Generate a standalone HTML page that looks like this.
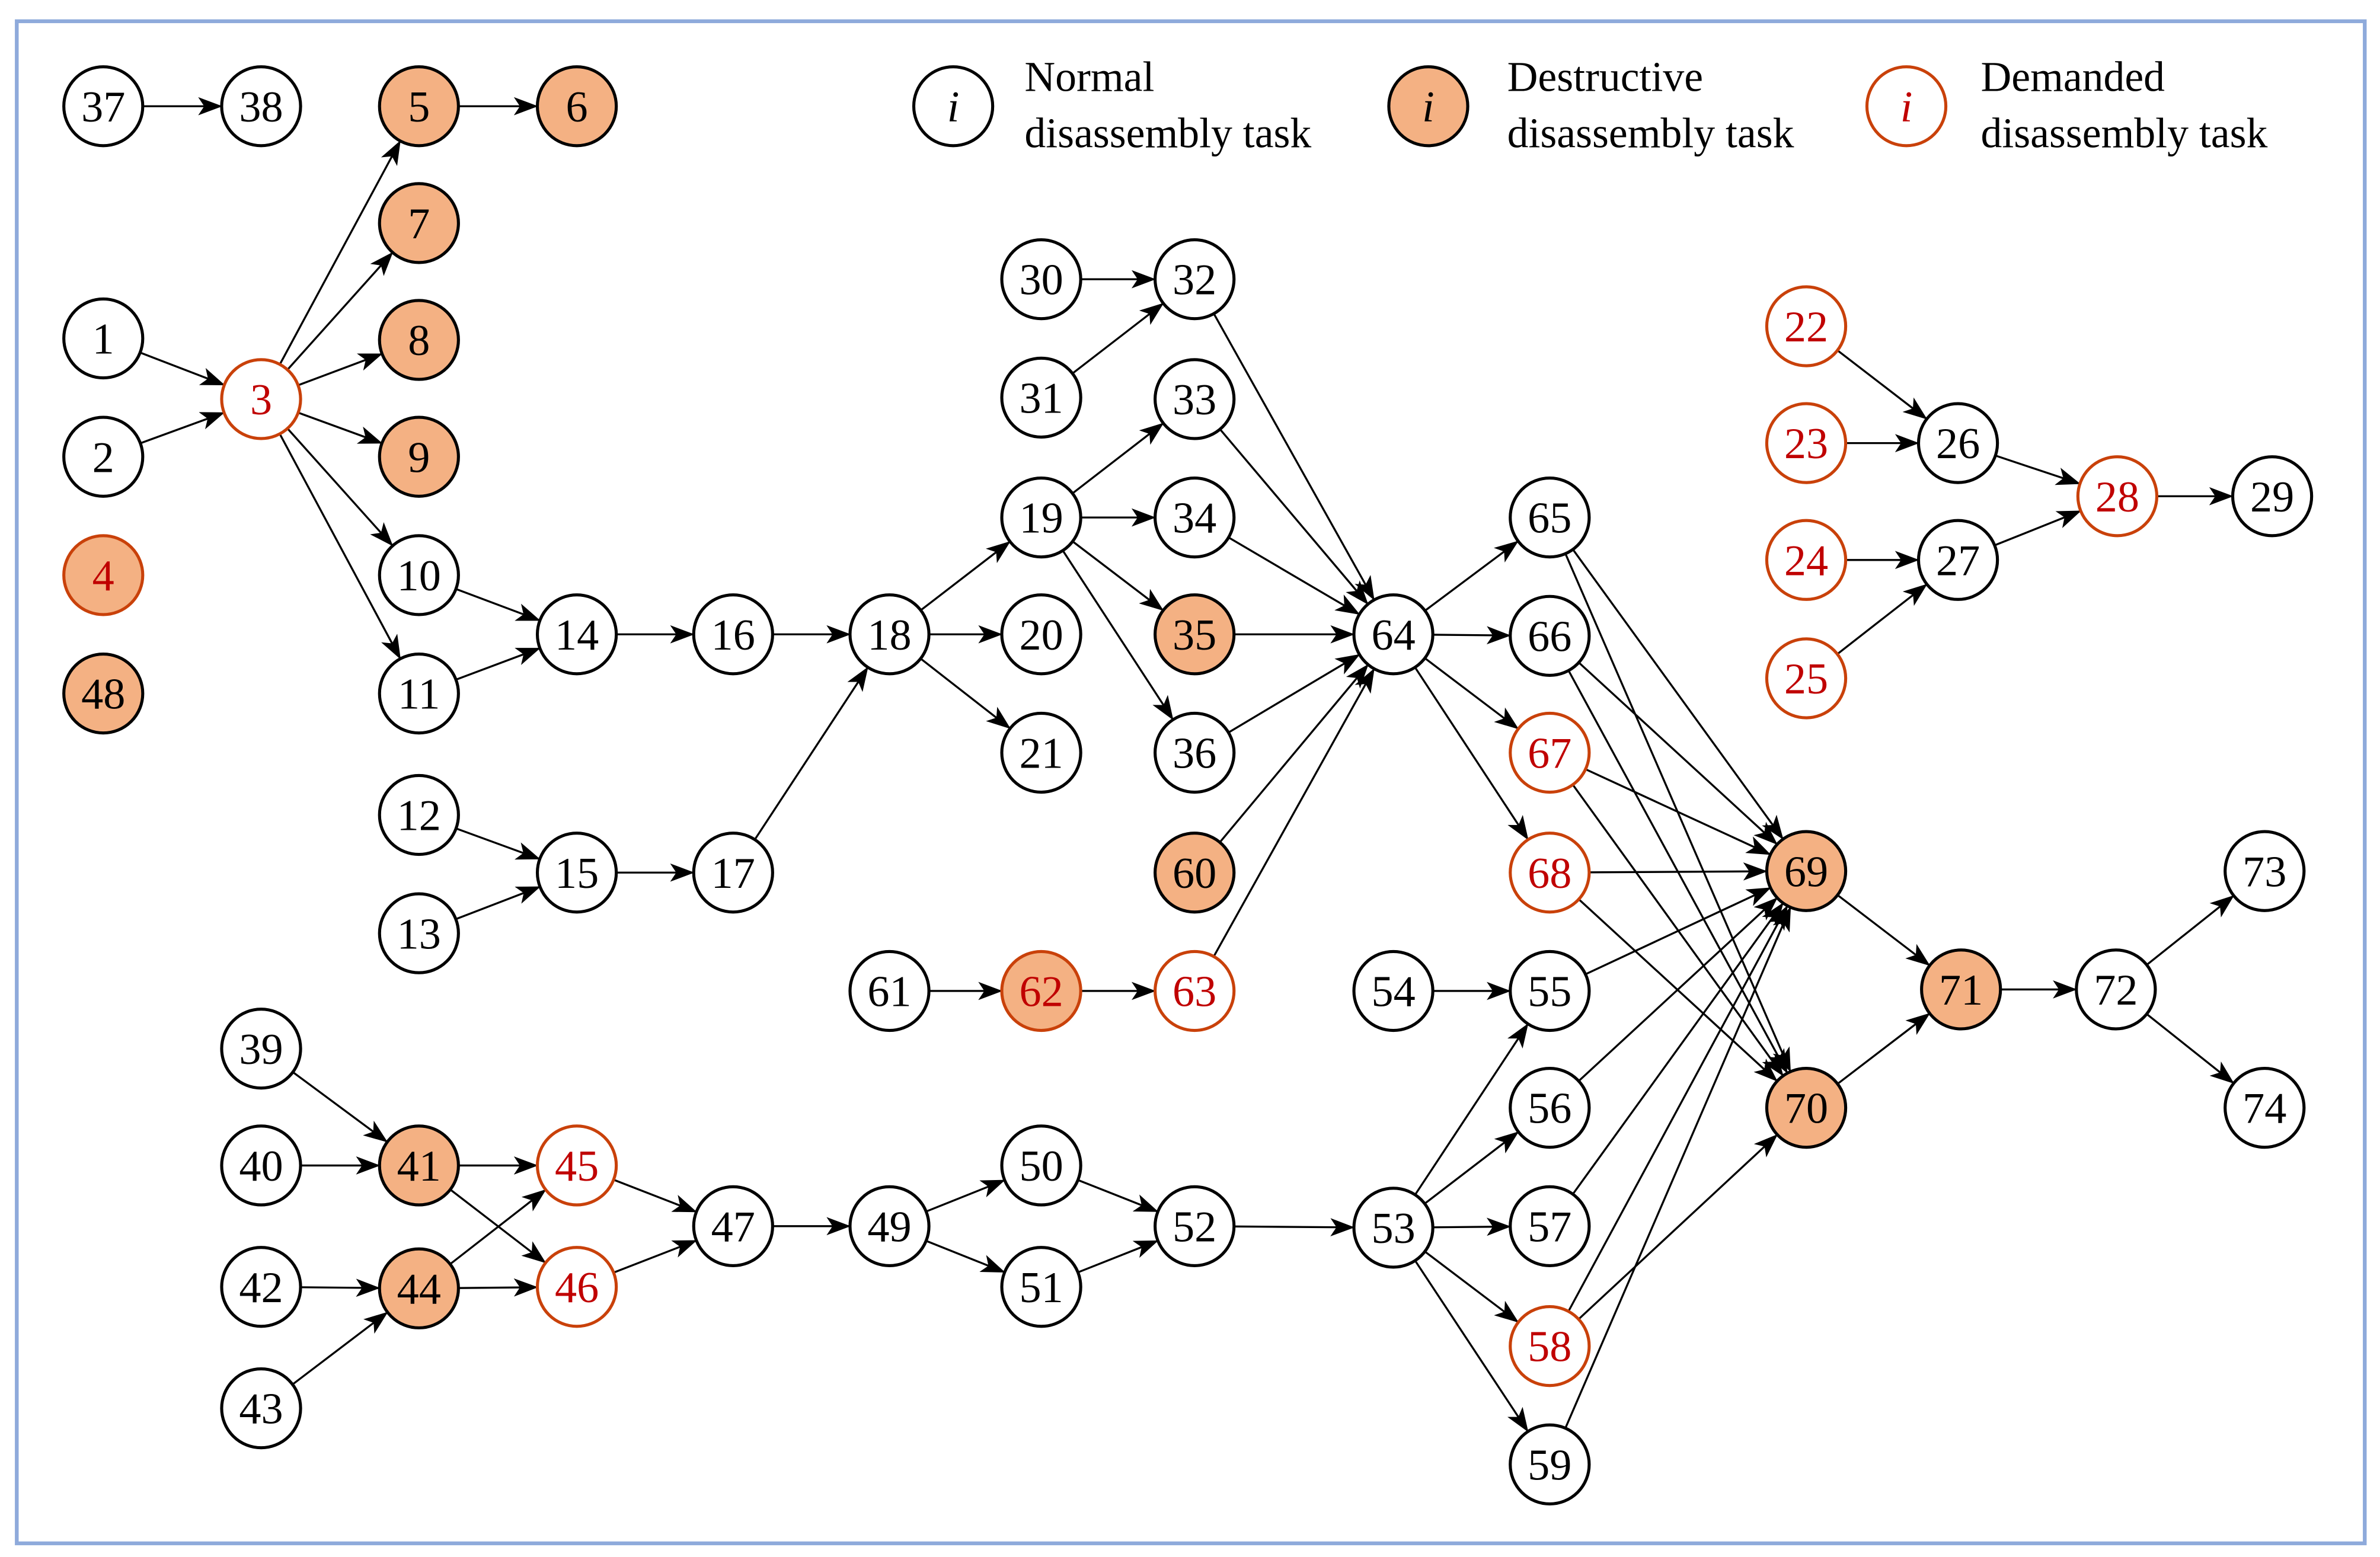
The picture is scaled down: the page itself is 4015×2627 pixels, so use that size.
<!DOCTYPE html>
<html><head><meta charset="utf-8"><style>
html,body{margin:0;padding:0;background:#fff;}
svg{display:block;}
text{font-family:"Liberation Serif",serif;}
</style></head><body>
<svg id="s" width="4015" height="2627" viewBox="0 0 1568 1026" xmlns="http://www.w3.org/2000/svg">
<defs><marker id="a" markerUnits="userSpaceOnUse" markerWidth="16" markerHeight="12" refX="15" refY="6" orient="auto"><path d="M0,0 L16,6 L0,12 L4,6 z" fill="#000"/></marker></defs>
<rect x="11" y="14" width="1547" height="1003" fill="#fff" stroke="#8eaadb" stroke-width="2.5"/>
<g id="edges" stroke="#000" stroke-width="1.3" fill="none"></g>
<g id="nodes" font-size="29" text-anchor="middle">
<!-- normal -->
<g fill="#fff" stroke="#000" stroke-width="2">
<circle cx="68" cy="70" r="26"/><circle cx="172" cy="70" r="26"/><circle cx="68" cy="223" r="26"/><circle cx="68" cy="301" r="26"/>
<circle cx="276" cy="379" r="26"/><circle cx="276" cy="457" r="26"/><circle cx="380" cy="418" r="26"/><circle cx="483" cy="418" r="26"/><circle cx="586" cy="418" r="26"/>
<circle cx="276" cy="537" r="26"/><circle cx="276" cy="615" r="26"/><circle cx="380" cy="575" r="26"/><circle cx="483" cy="575" r="26"/>
<circle cx="686" cy="184" r="26"/><circle cx="686" cy="262" r="26"/><circle cx="787" cy="184" r="26"/><circle cx="787" cy="263" r="26"/>
<circle cx="686" cy="341" r="26"/><circle cx="787" cy="341" r="26"/><circle cx="686" cy="418" r="26"/><circle cx="686" cy="496" r="26"/><circle cx="787" cy="496" r="26"/>
<circle cx="586" cy="653" r="26"/><circle cx="918" cy="418" r="26"/><circle cx="1021" cy="341" r="26"/><circle cx="1021" cy="419" r="26"/>
<circle cx="918" cy="653" r="26"/><circle cx="1021" cy="653" r="26"/><circle cx="1021" cy="730" r="26"/><circle cx="1021" cy="808" r="26"/><circle cx="1021" cy="965" r="26"/><circle cx="918" cy="809" r="26"/>
<circle cx="1394" cy="652" r="26"/><circle cx="1492" cy="574" r="26"/><circle cx="1492" cy="730" r="26"/>
<circle cx="1290" cy="292" r="26"/><circle cx="1290" cy="369" r="26"/><circle cx="1497" cy="327" r="26"/>
<circle cx="172" cy="691" r="26"/><circle cx="172" cy="768" r="26"/><circle cx="172" cy="848" r="26"/><circle cx="172" cy="928" r="26"/>
<circle cx="483" cy="808" r="26"/><circle cx="586" cy="808" r="26"/><circle cx="686" cy="768" r="26"/><circle cx="686" cy="848" r="26"/><circle cx="787" cy="808" r="26"/>
<circle cx="628" cy="70" r="26"/>
</g>
<!-- destructive -->
<g fill="#f4b183" stroke="#000" stroke-width="2">
<circle cx="276" cy="70" r="26"/><circle cx="380" cy="70" r="26"/><circle cx="276" cy="147" r="26"/><circle cx="276" cy="224" r="26"/><circle cx="276" cy="301" r="26"/>
<circle cx="68" cy="457" r="26"/><circle cx="787" cy="418" r="26"/><circle cx="787" cy="575" r="26"/>
<circle cx="1190" cy="574" r="26"/><circle cx="1190" cy="730" r="26"/><circle cx="1292" cy="652" r="26"/>
<circle cx="276" cy="768" r="26"/><circle cx="276" cy="849" r="26"/><circle cx="941" cy="70" r="26"/>
</g>
<g fill="#f4b183" stroke="#c9410a" stroke-width="2">
<circle cx="68" cy="379" r="26"/><circle cx="686" cy="653" r="26"/>
</g>
<!-- demanded -->
<g fill="#fff" stroke="#c9410a" stroke-width="2">
<circle cx="172" cy="263" r="26"/><circle cx="787" cy="653" r="26"/><circle cx="1021" cy="496" r="26"/><circle cx="1021" cy="575" r="26"/><circle cx="1021" cy="887" r="26"/>
<circle cx="1190" cy="215" r="26"/><circle cx="1190" cy="292" r="26"/><circle cx="1190" cy="369" r="26"/><circle cx="1190" cy="447" r="26"/><circle cx="1395" cy="327" r="26"/>
<circle cx="380" cy="768" r="26"/><circle cx="380" cy="848" r="26"/><circle cx="1256" cy="70" r="26"/>
</g>
<g fill="#000">
<text x="68" y="80">37</text><text x="172" y="80">38</text><text x="276" y="80">5</text><text x="380" y="80">6</text><text x="276" y="157">7</text><text x="276" y="234">8</text><text x="276" y="311">9</text>
<text x="68" y="233">1</text><text x="68" y="311">2</text><text x="68" y="467">48</text>
<text x="276" y="389">10</text><text x="276" y="467">11</text><text x="380" y="428">14</text><text x="483" y="428">16</text><text x="586" y="428">18</text>
<text x="276" y="547">12</text><text x="276" y="625">13</text><text x="380" y="585">15</text><text x="483" y="585">17</text>
<text x="686" y="194">30</text><text x="686" y="272">31</text><text x="787" y="194">32</text><text x="787" y="273">33</text>
<text x="686" y="351">19</text><text x="787" y="351">34</text><text x="787" y="428">35</text><text x="686" y="428">20</text><text x="686" y="506">21</text><text x="787" y="506">36</text><text x="787" y="585">60</text>
<text x="586" y="663">61</text><text x="918" y="428">64</text><text x="1021" y="351">65</text><text x="1021" y="429">66</text>
<text x="918" y="663">54</text><text x="1021" y="663">55</text><text x="1021" y="740">56</text><text x="1021" y="818">57</text><text x="1021" y="975">59</text><text x="918" y="819">53</text>
<text x="1190" y="584">69</text><text x="1190" y="740">70</text><text x="1292" y="662">71</text><text x="1394" y="662">72</text><text x="1492" y="584">73</text><text x="1492" y="740">74</text>
<text x="1290" y="302">26</text><text x="1290" y="379">27</text><text x="1497" y="337">29</text>
<text x="172" y="701">39</text><text x="172" y="778">40</text><text x="172" y="858">42</text><text x="172" y="938">43</text><text x="276" y="778">41</text><text x="276" y="859">44</text>
<text x="483" y="818">47</text><text x="586" y="818">49</text><text x="686" y="778">50</text><text x="686" y="858">51</text><text x="787" y="818">52</text>
<text x="628" y="80" font-style="italic">i</text><text x="941" y="80" font-style="italic">i</text>
</g>
<g fill="#c00000">
<text x="172" y="273">3</text><text x="68" y="389">4</text><text x="686" y="663">62</text><text x="787" y="663">63</text><text x="1021" y="506">67</text><text x="1021" y="585">68</text><text x="1021" y="897">58</text>
<text x="1190" y="225">22</text><text x="1190" y="302">23</text><text x="1190" y="379">24</text><text x="1190" y="457">25</text><text x="1395" y="337">28</text>
<text x="380" y="778">45</text><text x="380" y="858">46</text><text x="1256" y="80" font-style="italic">i</text>
</g>
</g>
<g font-size="28" fill="#000">
<text x="675" y="60">Normal</text><text x="675" y="97">disassembly task</text>
<text x="993" y="60">Destructive</text><text x="993" y="97">disassembly task</text>
<text x="1305" y="60">Demanded</text><text x="1305" y="97">disassembly task</text>
</g>
</svg>
<script>
var P={37:[68,70],38:[172,70],5:[276,70],6:[380,70],7:[276,147],8:[276,224],9:[276,301],1:[68,223],2:[68,301],3:[172,263],
10:[276,379],11:[276,457],14:[380,418],16:[483,418],18:[586,418],12:[276,537],13:[276,615],15:[380,575],17:[483,575],
30:[686,184],31:[686,262],32:[787,184],33:[787,263],19:[686,341],34:[787,341],35:[787,418],20:[686,418],21:[686,496],36:[787,496],60:[787,575],
61:[586,653],62:[686,653],63:[787,653],64:[918,418],65:[1021,341],66:[1021,419],67:[1021,496],68:[1021,575],54:[918,653],55:[1021,653],
56:[1021,730],57:[1021,808],58:[1021,887],59:[1021,965],53:[918,809],69:[1190,574],70:[1190,730],71:[1292,652],72:[1394,652],73:[1492,574],74:[1492,730],
22:[1190,215],23:[1190,292],24:[1190,369],25:[1190,447],26:[1290,292],27:[1290,369],28:[1395,327],29:[1497,327],
39:[172,691],40:[172,768],42:[172,848],43:[172,928],41:[276,768],44:[276,849],45:[380,768],46:[380,848],47:[483,808],49:[586,808],50:[686,768],51:[686,848],52:[787,808]};
var E=[[37,38],[5,6],[3,5],[3,7],[3,8],[3,9],[3,10],[3,11],[1,3],[2,3],[10,14],[11,14],[14,16],[16,18],[12,15],[13,15],[15,17],[17,18],
[18,19],[18,20],[18,21],[30,32],[31,32],[19,33],[19,34],[19,35],[19,36],[32,64],[33,64],[34,64],[35,64],[36,64],[60,64],[63,64],[61,62],[62,63],
[64,65],[64,66],[64,67],[64,68],[54,55],[53,55],[53,56],[53,57],[53,58],[53,59],[52,53],[50,52],[51,52],[49,50],[49,51],[47,49],[45,47],[46,47],
[41,45],[41,46],[44,45],[44,46],[39,41],[40,41],[42,44],[43,44],
[65,69],[65,70],[66,69],[66,70],[67,69],[67,70],[68,69],[68,70],[55,69],[56,69],[57,69],[58,69],[58,70],[59,69],
[69,71],[70,71],[71,72],[72,73],[72,74],[22,26],[23,26],[24,27],[25,27],[26,28],[27,28],[28,29]];
var g=document.getElementById('edges'),r=26.5,h='';
E.forEach(function(e){var a=P[e[0]],b=P[e[1]],dx=b[0]-a[0],dy=b[1]-a[1],d=Math.hypot(dx,dy),ux=dx/d,uy=dy/d;
h+='<line x1="'+(a[0]+ux*r)+'" y1="'+(a[1]+uy*r)+'" x2="'+(b[0]-ux*r)+'" y2="'+(b[1]-uy*r)+'" marker-end="url(#a)"/>';});
g.innerHTML=h;
</script>
</body></html>
